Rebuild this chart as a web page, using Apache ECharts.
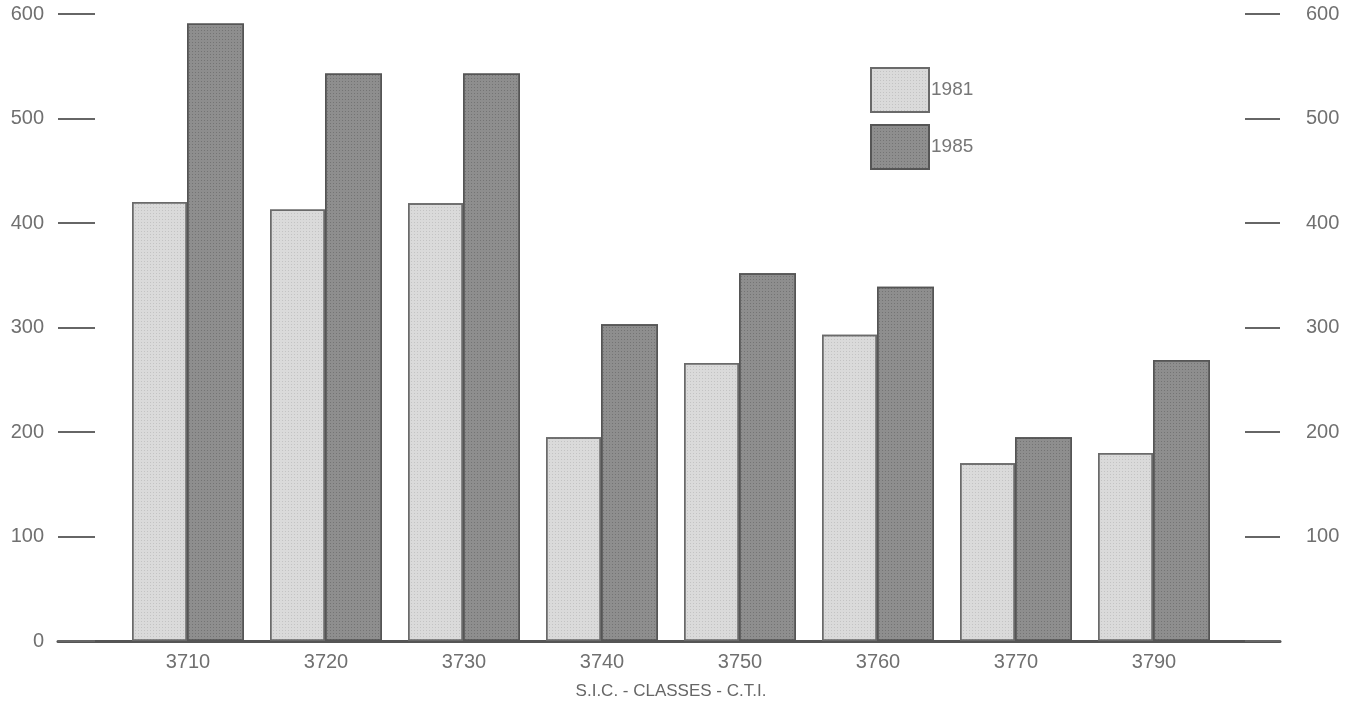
<!DOCTYPE html>
<html>
<head>
<meta charset="utf-8">
<script src="https://cdn.jsdelivr.net/npm/echarts@6/dist/echarts.min.js"></script>
<style>
html,body{margin:0;padding:0;background:#fff;}
#chart{width:1361px;height:704px;}
</style>
</head>
<body>
<div id="chart"></div>
<script>
const categories = ['3710','3720','3730','3740','3750','3760','3770','3790'];
const values1981 = [420, 413, 419, 195, 266, 293, 170, 180];
const values1985 = [591, 543, 543, 303, 352, 339, 195, 269];
const seriesNames = ['1981', '1985'];
const axisTitle = 'S.I.C. - CLASSES - C.T.I.';

const FONT = '"Liberation Sans", Arial, sans-serif';
const chart = echarts.init(document.getElementById('chart'));

const dotDecal = (c) => ({
  symbol: 'rect',
  symbolSize: 1,
  dashArrayX: [1, 2],
  dashArrayY: [1, 2],
  color: c
});

chart.setOption({
  animation: false,
  backgroundColor: '#ffffff',
  legend: {
    orient: 'vertical',
    left: 865,
    top: 62,
    itemWidth: 58,
    itemHeight: 44,
    itemGap: 11,
    icon: 'rect',
    textStyle: { color: '#777', fontSize: 19, fontFamily: FONT, padding: [0, 0, 0, -3] },
    data: seriesNames
  },
  grid: [
    { left: 119, right: 138, top: 14, bottom: 63, outerBoundsMode: 'none', containLabel: false },
    { left: 58, right: 81, top: 14, bottom: 63, outerBoundsMode: 'none', containLabel: false }
  ],
  xAxis: [
    {
      type: 'category',
      gridIndex: 0,
      data: categories,
      axisLine: { show: false },
      axisTick: { show: false },
      axisLabel: { color: '#707070', fontSize: 20, fontFamily: FONT, margin: 11 },
      name: axisTitle,
      nameLocation: 'middle',
      nameGap: 42,
      nameTextStyle: { color: '#666', fontSize: 17, fontFamily: FONT }
    },
    {
      type: 'category',
      gridIndex: 1,
      data: categories,
      axisLine: { show: true, lineStyle: { color: '#555', width: 3 } },
      axisTick: { show: false },
      axisLabel: { show: false }
    }
  ],
  yAxis: [
    {
      type: 'value', gridIndex: 0, min: 0, max: 600, interval: 100,
      show: false
    },
    {
      type: 'value', gridIndex: 1, position: 'left', min: 0, max: 600, interval: 100,
      axisLine: { show: false },
      axisTick: { show: true, inside: true, length: 37, lineStyle: { color: '#666', width: 2 } },
      axisLabel: { color: '#707070', fontSize: 20, fontFamily: FONT, margin: 14,
        formatter: (v) => v === 0 ? '0' : String(v) },
      splitLine: { show: false }
    },
    {
      type: 'value', gridIndex: 1, position: 'right', min: 0, max: 600, interval: 100,
      axisLine: { show: false },
      axisTick: { show: true, inside: true, length: 35, lineStyle: { color: '#666', width: 2 } },
      axisLabel: { color: '#707070', fontSize: 20, fontFamily: FONT, margin: 26,
        formatter: (v) => v === 0 ? '' : String(v) },
      splitLine: { show: false }
    }
  ],
  series: [
    {
      name: seriesNames[0],
      type: 'bar',
      xAxisIndex: 0, yAxisIndex: 0,
      data: values1981,
      barWidth: 55,
      barGap: '0%',
      itemStyle: { color: '#dadada', borderColor: '#6a6a6a', borderWidth: 1.5,
        decal: dotDecal('rgba(0,0,0,0.10)') }
    },
    {
      name: seriesNames[1],
      type: 'bar',
      xAxisIndex: 0, yAxisIndex: 0,
      data: values1985,
      barWidth: 57,
      barGap: '0%',
      itemStyle: { color: '#8e8e8e', borderColor: '#555', borderWidth: 1.5,
        decal: dotDecal('rgba(0,0,0,0.18)') }
    }
  ]
});
</script>
</body>
</html>
